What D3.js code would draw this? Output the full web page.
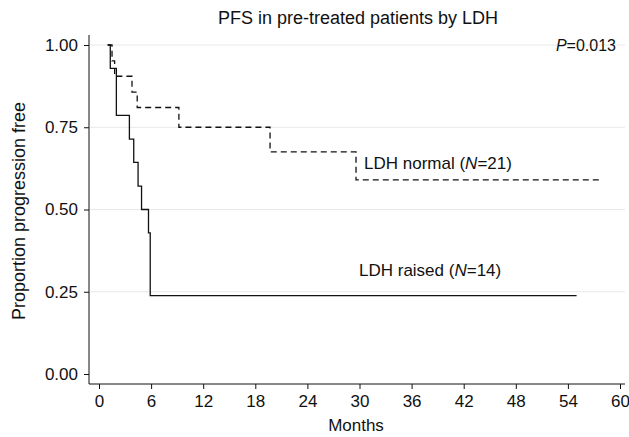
<!DOCTYPE html><html><head><meta charset="utf-8"><script src="https://cdn.jsdelivr.net/npm/d3@7"></script>
<style>body{margin:0;background:#fff}text{font-family:"Liberation Sans",Arial,sans-serif;fill:#111}</style></head><body><svg id="c" width="629" height="437"></svg><script>
const xTicks=[0,6,12,18,24,30,36,42,48,54,60];
const yTicks=[0,0.25,0.5,0.75,1];
const raisedT=[1,1.3,2,3.5,4,4.5,4.9,5.7,5.9,55];
const raisedS=[1,0.929,0.786,0.714,0.643,0.571,0.5,0.429,0.238,0.238];
const normalT=[1,1.5,1.8,3.8,4.4,9.2,19.7,29.6,57.9];
const normalS=[1,0.952,0.905,0.857,0.81,0.75,0.675,0.59,0.59];
const svg=d3.select("#c");
const x=d3.scaleLinear().domain([0,60]).range([99,620]);
const y=d3.scaleLinear().domain([0,1]).range([374,45]);
svg.append("g").selectAll("line").data(yTicks.slice(1)).join("line").attr("x1",90).attr("x2",625).attr("y1",d=>y(d)).attr("y2",d=>y(d)).attr("stroke","#e8e8e8");
const ya=svg.append("g").attr("transform","translate(89,0)").call(d3.axisLeft(y).tickValues(yTicks).tickFormat(d3.format(".2f")).tickSizeOuter(0).tickSize(5).tickPadding(6));
const xa=svg.append("g").attr("transform","translate(0,384)").call(d3.axisBottom(x).tickValues(xTicks).tickSizeOuter(0).tickSize(5).tickPadding(6));
[ya,xa].forEach(a=>{a.selectAll("text").style("font-size","17px").attr("fill","#111");a.selectAll("line,path").attr("stroke","#111");});
ya.select(".domain").attr("d","M0,35V384");xa.select(".domain").attr("d","M89,0H625");
const line=d3.line().x(d=>x(d[0])).y(d=>y(d[1])).curve(d3.curveStepAfter);
svg.append("path").attr("d",line(normalT.map((t,i)=>[t,normalS[i]]))).attr("fill","none").attr("stroke","#111").attr("stroke-width",1.3).attr("stroke-dasharray","6,4");
svg.append("path").attr("d",line(raisedT.map((t,i)=>[t,raisedS[i]]))).attr("fill","none").attr("stroke","#111").attr("stroke-width",1.3);
svg.append("text").attr("x",358).attr("y",24).attr("text-anchor","middle").style("font-size","18px").text("PFS in pre-treated patients by LDH");
svg.append("text").attr("x",356).attr("y",431).attr("text-anchor","middle").style("font-size","17px").text("Months");
svg.append("text").attr("transform","translate(25,211) rotate(-90)").attr("text-anchor","middle").style("font-size","18px").text("Proportion progression free");
svg.append("text").attr("x",616).attr("y",51).attr("text-anchor","end").style("font-size","16px").html('<tspan font-style="italic">P</tspan>=0.013');
svg.append("text").attr("x",364).attr("y",169).style("font-size","17px").html('LDH normal (<tspan font-style="italic">N</tspan>=21)');
svg.append("text").attr("x",359).attr("y",276).style("font-size","17px").html('LDH raised (<tspan font-style="italic">N</tspan>=14)');
</script></body></html>
